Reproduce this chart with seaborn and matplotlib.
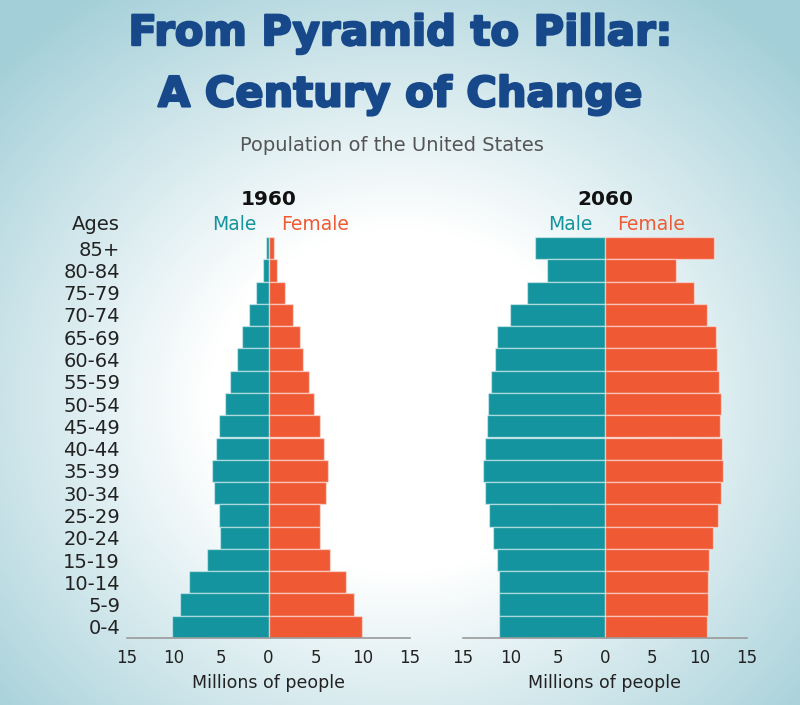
import numpy as np
import pandas as pd
import matplotlib
matplotlib.use("Agg")
import matplotlib.pyplot as plt
import matplotlib.patheffects as pe
from matplotlib.colors import to_rgb
import seaborn as sns

# age groups, top to bottom
ages = ["85+", "80-84", "75-79", "70-74", "65-69", "60-64", "55-59", "50-54", "45-49",
        "40-44", "35-39", "30-34", "25-29", "20-24", "15-19", "10-14", "5-9", "0-4"]

# millions of people
male_1960 = [0.25, 0.6, 1.3, 2.1, 2.85, 3.35, 4.05, 4.65, 5.25,
             5.55, 5.95, 5.8, 5.25, 5.15, 6.5, 8.4, 9.35, 10.2]
female_1960 = [0.55, 0.9, 1.7, 2.55, 3.35, 3.7, 4.25, 4.8, 5.45,
               5.9, 6.35, 6.05, 5.5, 5.5, 6.55, 8.2, 9.1, 9.95]
male_2060 = [7.4, 6.15, 8.2, 10.0, 11.45, 11.65, 12.0, 12.4, 12.5,
             12.65, 12.85, 12.65, 12.25, 11.85, 11.4, 11.25, 11.25, 11.15]
female_2060 = [11.55, 7.55, 9.4, 10.75, 11.7, 11.8, 12.0, 12.25, 12.15,
               12.4, 12.5, 12.25, 11.95, 11.4, 11.0, 10.85, 10.85, 10.8]

xticks = [-15, -10, -5, 0, 5, 10, 15]

TEAL = "#13949e"
RED = "#ef5a35"
NAVY = "#17498a"

sns.set_style("white")
plt.rcParams["font.family"] = ["DejaVu Sans"]

fig = plt.figure(figsize=(8, 7.05), dpi=100)

# soft radial background, white in the middle
bg = fig.add_axes([0, 0, 1, 1], zorder=-1)
yy, xx = np.mgrid[0:705, 0:800]
d = np.sqrt(((xx - 400) / 480.0) ** 2 + ((yy - 400) / 430.0) ** 2)
t = np.clip((d - 0.4) / 0.75, 0, 1)
edge = np.array(to_rgb("#a3cfd8"))
img = (1 - t)[..., None] * np.ones(3) + t[..., None] * edge
bg.imshow(img, aspect="auto", extent=[0, 1, 0, 1], origin="upper")
bg.axis("off")


def pyramid(ax, male, female, year, show_ages):
    ax.set_facecolor("none")
    sns.barplot(x=-np.array(male), y=ages, order=ages, orient="h", color=TEAL,
                saturation=1, width=1, errorbar=None, edgecolor=(1, 1, 1, 0.45),
                linewidth=1, ax=ax)
    sns.barplot(x=np.array(female), y=ages, order=ages, orient="h", color=RED,
                saturation=1, width=1, errorbar=None, edgecolor=(1, 1, 1, 0.45),
                linewidth=1, ax=ax)
    ax.set_xlim(-15, 15)
    ax.set_ylim(len(ages) - 0.5, -0.5)
    ax.set_axisbelow(False)
    ax.set_xticks(xticks)
    ax.set_xticklabels([str(abs(v)) for v in xticks])
    ax.tick_params(axis="x", direction="in", length=8, width=1.3, color="#2a2a2a",
                   pad=8, labelsize=12, labelcolor="#222222")
    ax.tick_params(axis="y", length=0, pad=5, labelsize=14, labelcolor="#222222")
    if not show_ages:
        ax.tick_params(axis="y", labelleft=False)
    for s in ["left", "top", "right"]:
        ax.spines[s].set_visible(False)
    ax.spines["bottom"].set_color("#9a9a9a")
    ax.spines["bottom"].set_linewidth(1.2)
    ax.set_ylabel("")
    ax.set_xlabel("Millions of people", fontsize=12.5, color="#222222", labelpad=5)

    tr = ax.get_xaxis_transform()
    ax.text(0, 1.08, year, transform=tr, ha="center", va="baseline",
            fontsize=14.5, fontweight="bold", color="#111111")
    ax.text(-1.3, 1.018, "Male", transform=tr, ha="right", va="baseline",
            fontsize=13.5, color=TEAL)
    ax.text(1.3, 1.018, "Female", transform=tr, ha="left", va="baseline",
            fontsize=13.5, color=RED)
    if show_ages:
        ax.text(-0.025, 1.018, "Ages", transform=ax.transAxes, ha="right",
                va="baseline", fontsize=14, color="#222222")


ax1 = fig.add_axes([127 / 800, 67 / 705, 283 / 800, 401 / 705])
ax2 = fig.add_axes([463 / 800, 67 / 705, 284 / 800, 401 / 705])
pyramid(ax1, male_1960, female_1960, "1960", True)
pyramid(ax2, male_2060, female_2060, "2060", False)

heavy = [pe.withStroke(linewidth=1.6, foreground=NAVY)]
fig.text(0.5, 0.936, "From Pyramid to Pillar:", ha="center", va="baseline",
         fontsize=30, fontweight="heavy", color=NAVY, path_effects=heavy)
fig.text(0.5, 0.849, "A Century of Change", ha="center", va="baseline",
         fontsize=30, fontweight="heavy", color=NAVY, path_effects=heavy)
fig.text(0.49, 0.786, "Population of the United States", ha="center", va="baseline",
         fontsize=14, color="#555555")

fig.savefig("out.png", dpi=100)
